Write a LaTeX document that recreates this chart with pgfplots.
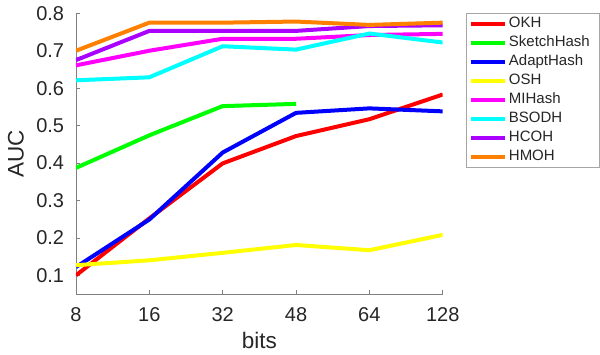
\documentclass[border=0pt]{standalone}
\usepackage{pgfplots}
\pgfplotsset{compat=1.18}
\usepackage{fontspec}
\setmainfont{Liberation Sans}
\definecolor{txt}{gray}{0.15}
\definecolor{cokh}{RGB}{255,0,0}
\definecolor{csketch}{RGB}{0,255,0}
\definecolor{cadapt}{RGB}{0,0,255}
\definecolor{cosh}{RGB}{255,255,0}
\definecolor{cmi}{RGB}{255,0,255}
\definecolor{cbsodh}{RGB}{0,255,255}
\definecolor{chcoh}{RGB}{170,0,255}
\definecolor{chmoh}{RGB}{255,128,0}
\begin{document}
\begin{tikzpicture}
\path[use as bounding box] (0,0) rectangle (600pt,354pt);
\begin{axis}[
  at={(76pt,60pt)}, anchor=south west,
  scale only axis, width=366.7pt, height=280.7pt,
  xmin=0, xmax=5, ymin=0.05, ymax=0.8,
  xtick={0,1,2,3,4,5}, xticklabels={8,16,32,48,64,128},
  ytick={0.1,0.2,0.3,0.4,0.5,0.6,0.7,0.8},
  yticklabels={0.1,0.2,0.3,0.4,0.5,0.6,0.7,0.8},
  axis x line*=bottom, axis y line*=left,
  axis line style={-, draw=gray, line width=0.6pt},
  tick style={draw=gray, line width=0.6pt},
  major tick length=4pt, tick align=inside,
  ticklabel style={font=\fontsize{20}{24}\selectfont, text=txt, inner sep=0pt},
  xticklabel style={anchor=center, yshift=-20.5pt},
  yticklabel style={anchor=east, xshift=-11.7pt},
  /pgf/number format/assume math mode=true,
  xlabel={bits}, ylabel={AUC},
  label style={font=\fontsize{22.5}{26}\selectfont, text=txt},
  xlabel style={at={(axis description cs:0.5,0)}, anchor=center, yshift=-46.5pt},
  ylabel style={at={(axis description cs:0,0.5)}, anchor=center, yshift=60pt},
  every axis plot/.append style={line width=4pt, mark=none},
  legend image code/.code={\draw[#1, line width=4pt] (0pt,0pt) -- (34pt,0pt);},
  legend cell align=left,
  legend style={name=leg, at={(1.0655,1)}, anchor=north west, draw=none, fill=white,
    font=\fontsize{15}{18}\selectfont, text=txt,
    nodes={text height=10.5pt, text depth=3pt, inner ysep=2.75pt},
    inner xsep=2pt, inner ysep=1pt},
]
\addplot[cokh] coordinates {(0,0.100) (1,0.252) (2,0.399) (3,0.472) (4,0.517) (5,0.583)};
\addlegendentry{OKH}
\addplot[csketch] coordinates {(0,0.387) (1,0.474) (2,0.552) (3,0.558)};
\addlegendentry{SketchHash}
\addplot[cadapt] coordinates {(0,0.122) (1,0.249) (2,0.428) (3,0.534) (4,0.546) (5,0.538)};
\addlegendentry{AdaptHash}
\addplot[cosh] coordinates {(0,0.127) (1,0.140) (2,0.160) (3,0.181) (4,0.167) (5,0.208)};
\addlegendentry{OSH}
\addplot[cmi] coordinates {(0,0.661) (1,0.700) (2,0.732) (3,0.732) (4,0.742) (5,0.745)};
\addlegendentry{MIHash}
\addplot[cbsodh] coordinates {(0,0.621) (1,0.629) (2,0.712) (3,0.703) (4,0.746) (5,0.722)};
\addlegendentry{BSODH}
\addplot[chcoh] coordinates {(0,0.675) (1,0.753) (2,0.753) (3,0.753) (4,0.766) (5,0.768)};
\addlegendentry{HCOH}
\addplot[chmoh] coordinates {(0,0.700) (1,0.775) (2,0.775) (3,0.778) (4,0.769) (5,0.775)};
\addlegendentry{HMOH}
\end{axis}
\draw[gray!70, line width=0.6pt] (leg.north west) rectangle (599pt,|-leg.south east);
\end{tikzpicture}
\end{document}
